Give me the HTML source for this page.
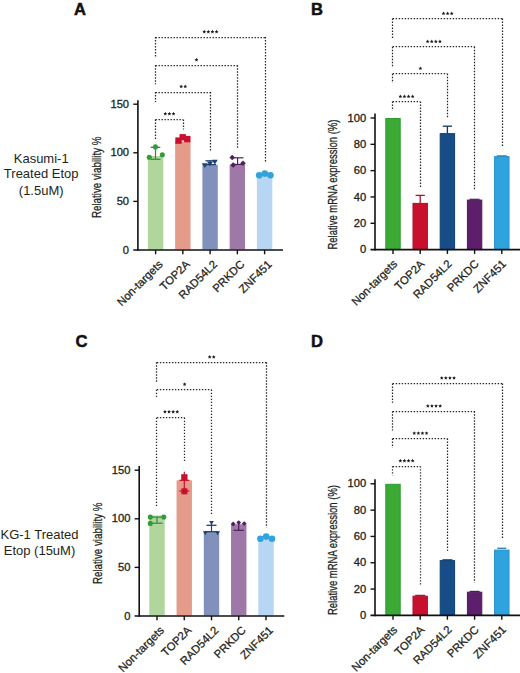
<!DOCTYPE html>
<html><head><meta charset="utf-8"><style>
html,body{margin:0;padding:0;background:#fff;}
svg{display:block;font-family:"Liberation Sans", sans-serif;}
text{stroke:#231f20;stroke-width:0.28px;}
text.s{stroke:none;}
text.b{stroke:#111;stroke-width:0.5px;}
</style></head><body>
<svg width="520" height="673" viewBox="0 0 520 673">
<rect width="520" height="673" fill="#fff"/>
<rect x="147.90" y="156.00" width="15.40" height="93.50" fill="#b0d69e" />
<rect x="175.15" y="141.50" width="15.40" height="108.00" fill="#e59b8a" />
<rect x="202.40" y="164.80" width="15.40" height="84.70" fill="#8191bb" />
<rect x="229.65" y="164.50" width="15.40" height="85.00" fill="#9e79a7" />
<rect x="256.90" y="176.00" width="15.40" height="73.50" fill="#b6d6f3" />
<line x1="137.90" y1="100.20" x2="137.90" y2="250.80" stroke="#111" stroke-width="1.6" />
<line x1="133.30" y1="250.00" x2="283.00" y2="250.00" stroke="#111" stroke-width="1.6" />
<text transform="translate(129.10,253.60) scale(1.12,1)" font-size="10" text-anchor="end" fill="#231f20">0</text>
<line x1="133.30" y1="201.40" x2="137.90" y2="201.40" stroke="#111" stroke-width="1.4" />
<text transform="translate(129.10,205.00) scale(1.12,1)" font-size="10" text-anchor="end" fill="#231f20">50</text>
<line x1="133.30" y1="152.80" x2="137.90" y2="152.80" stroke="#111" stroke-width="1.4" />
<text transform="translate(129.10,156.40) scale(1.12,1)" font-size="10" text-anchor="end" fill="#231f20">100</text>
<line x1="133.30" y1="104.20" x2="137.90" y2="104.20" stroke="#111" stroke-width="1.4" />
<text transform="translate(129.10,107.80) scale(1.12,1)" font-size="10" text-anchor="end" fill="#231f20">150</text>
<line x1="155.60" y1="250.00" x2="155.60" y2="254.30" stroke="#111" stroke-width="1.4" />
<line x1="182.85" y1="250.00" x2="182.85" y2="254.30" stroke="#111" stroke-width="1.4" />
<line x1="210.10" y1="250.00" x2="210.10" y2="254.30" stroke="#111" stroke-width="1.4" />
<line x1="237.35" y1="250.00" x2="237.35" y2="254.30" stroke="#111" stroke-width="1.4" />
<line x1="264.60" y1="250.00" x2="264.60" y2="254.30" stroke="#111" stroke-width="1.4" />
<text transform="translate(100.60,177.30) rotate(-90)" x="0" y="0" font-size="13.5" text-anchor="middle" fill="#231f20" textLength="81.5" lengthAdjust="spacingAndGlyphs">Relative viability %</text>
<text transform="translate(163.40,265.00) scale(1.0,1) rotate(-45)" font-size="11.3" text-anchor="end" fill="#231f20">Non-targets</text>
<text transform="translate(190.65,265.00) scale(1.0,1) rotate(-45)" font-size="11.3" text-anchor="end" fill="#231f20">TOP2A</text>
<text transform="translate(217.90,265.00) scale(1.0,1) rotate(-45)" font-size="11.3" text-anchor="end" fill="#231f20">RAD54L2</text>
<text transform="translate(245.15,265.00) scale(1.0,1) rotate(-45)" font-size="11.3" text-anchor="end" fill="#231f20">PRKDC</text>
<text transform="translate(272.40,265.00) scale(1.0,1) rotate(-45)" font-size="11.3" text-anchor="end" fill="#231f20">ZNF451</text>
<line x1="155.50" y1="37.50" x2="265.00" y2="37.50" stroke="#262626" stroke-width="1.25" stroke-dasharray="1.4 1.6"/>
<line x1="155.50" y1="37.00" x2="155.50" y2="56.50" stroke="#262626" stroke-width="1.25" stroke-dasharray="1.4 1.6"/>
<line x1="265.50" y1="37.00" x2="265.50" y2="162.80" stroke="#262626" stroke-width="1.25" stroke-dasharray="1.4 1.6"/>
<polygon points="204.25,29.80 204.81,31.03 206.15,31.18 205.15,32.09 205.43,33.42 204.25,32.75 203.07,33.42 203.35,32.09 202.35,31.18 203.69,31.03" fill="#1a1a1a"/>
<polygon points="208.35,29.80 208.91,31.03 210.25,31.18 209.25,32.09 209.53,33.42 208.35,32.75 207.17,33.42 207.45,32.09 206.45,31.18 207.79,31.03" fill="#1a1a1a"/>
<polygon points="212.45,29.80 213.01,31.03 214.35,31.18 213.35,32.09 213.63,33.42 212.45,32.75 211.27,33.42 211.55,32.09 210.55,31.18 211.89,31.03" fill="#1a1a1a"/>
<polygon points="216.55,29.80 217.11,31.03 218.45,31.18 217.45,32.09 217.73,33.42 216.55,32.75 215.37,33.42 215.65,32.09 214.65,31.18 215.99,31.03" fill="#1a1a1a"/>
<line x1="155.50" y1="65.50" x2="237.50" y2="65.50" stroke="#262626" stroke-width="1.25" stroke-dasharray="1.4 1.6"/>
<line x1="155.50" y1="65.30" x2="155.50" y2="84.20" stroke="#262626" stroke-width="1.25" stroke-dasharray="1.4 1.6"/>
<line x1="237.50" y1="65.30" x2="237.50" y2="149.00" stroke="#262626" stroke-width="1.25" stroke-dasharray="1.4 1.6"/>
<polygon points="196.50,57.80 197.06,59.03 198.40,59.18 197.40,60.09 197.68,61.42 196.50,60.75 195.32,61.42 195.60,60.09 194.60,59.18 195.94,59.03" fill="#1a1a1a"/>
<line x1="155.50" y1="92.50" x2="210.40" y2="92.50" stroke="#262626" stroke-width="1.25" stroke-dasharray="1.4 1.6"/>
<line x1="155.50" y1="92.00" x2="155.50" y2="102.00" stroke="#262626" stroke-width="1.25" stroke-dasharray="1.4 1.6"/>
<line x1="210.50" y1="92.00" x2="210.50" y2="152.00" stroke="#262626" stroke-width="1.25" stroke-dasharray="1.4 1.6"/>
<polygon points="181.15,84.50 181.71,85.73 183.05,85.88 182.05,86.79 182.33,88.12 181.15,87.45 179.97,88.12 180.25,86.79 179.25,85.88 180.59,85.73" fill="#1a1a1a"/>
<polygon points="185.25,84.50 185.81,85.73 187.15,85.88 186.15,86.79 186.43,88.12 185.25,87.45 184.07,88.12 184.35,86.79 183.35,85.88 184.69,85.73" fill="#1a1a1a"/>
<line x1="155.50" y1="119.50" x2="183.00" y2="119.50" stroke="#262626" stroke-width="1.25" stroke-dasharray="1.4 1.6"/>
<line x1="155.50" y1="119.60" x2="155.50" y2="140.60" stroke="#262626" stroke-width="1.25" stroke-dasharray="1.4 1.6"/>
<line x1="183.50" y1="119.60" x2="183.50" y2="129.60" stroke="#262626" stroke-width="1.25" stroke-dasharray="1.4 1.6"/>
<polygon points="165.30,111.80 165.86,113.03 167.20,113.18 166.20,114.09 166.48,115.42 165.30,114.75 164.12,115.42 164.40,114.09 163.40,113.18 164.74,113.03" fill="#1a1a1a"/>
<polygon points="169.40,111.80 169.96,113.03 171.30,113.18 170.30,114.09 170.58,115.42 169.40,114.75 168.22,115.42 168.50,114.09 167.50,113.18 168.84,113.03" fill="#1a1a1a"/>
<polygon points="173.50,111.80 174.06,113.03 175.40,113.18 174.40,114.09 174.68,115.42 173.50,114.75 172.32,115.42 172.60,114.09 171.60,113.18 172.94,113.03" fill="#1a1a1a"/>
<line x1="155.50" y1="147.30" x2="155.50" y2="159.30" stroke="#2e8b3a" stroke-width="1.2" />
<line x1="150.70" y1="147.30" x2="160.30" y2="147.30" stroke="#555" stroke-width="1.2" />
<line x1="151.00" y1="159.30" x2="160.50" y2="159.30" stroke="#2e8b3a" stroke-width="1.2" />
<circle cx="155.4" cy="146.9" r="2.55" fill="#2f9e38"/>
<circle cx="162.3" cy="154.7" r="2.55" fill="#2f9e38"/>
<circle cx="149.3" cy="157.3" r="2.55" fill="#2f9e38"/>
<rect x="175.30" y="137.40" width="6.40" height="6.40" fill="#c8102e" />
<rect x="179.50" y="134.10" width="6.40" height="6.40" fill="#c8102e" />
<rect x="184.10" y="135.90" width="6.40" height="6.40" fill="#c8102e" />
<line x1="210.30" y1="160.80" x2="210.30" y2="164.80" stroke="#1f3f78" stroke-width="1.2" />
<line x1="205.50" y1="160.80" x2="215.50" y2="160.80" stroke="#1f3f78" stroke-width="1.3" />
<line x1="204.50" y1="164.60" x2="216.00" y2="164.60" stroke="#1f3f78" stroke-width="1.2" />
<polygon points="201.80,163.20 207.80,163.20 204.80,168.00" fill="#1f3f78"/>
<polygon points="207.00,161.40 213.00,161.40 210.00,166.20" fill="#1f3f78"/>
<polygon points="211.80,159.70 217.80,159.70 214.80,164.50" fill="#1f3f78"/>
<line x1="237.60" y1="157.80" x2="237.60" y2="164.20" stroke="#4f1f5e" stroke-width="1.2" />
<line x1="233.00" y1="157.80" x2="243.50" y2="157.80" stroke="#4f1f5e" stroke-width="1.2" />
<line x1="232.00" y1="164.40" x2="244.00" y2="164.40" stroke="#4f1f5e" stroke-width="1.2" />
<polygon points="232.20,154.70 235.00,157.50 232.20,160.30 229.40,157.50" fill="#4f1f5e"/>
<polygon points="243.00,160.40 245.80,163.20 243.00,166.00 240.20,163.20" fill="#4f1f5e"/>
<polygon points="233.20,162.20 236.00,165.00 233.20,167.80 230.40,165.00" fill="#4f1f5e"/>
<circle cx="259.2" cy="175.3" r="3.3" fill="#2ea3dd"/>
<circle cx="264.8" cy="173.6" r="3.3" fill="#2ea3dd"/>
<circle cx="270.4" cy="175.3" r="3.3" fill="#2ea3dd"/>
<rect x="385.80" y="118.50" width="14.40" height="131.10" fill="#3aaa35" stroke="#2f9a2e" stroke-width="1"/>
<rect x="413.00" y="203.38" width="14.40" height="46.22" fill="#c8102e" stroke="#b00d28" stroke-width="1"/>
<rect x="440.20" y="133.63" width="14.40" height="115.97" fill="#164c88" stroke="#0f3f73" stroke-width="1"/>
<rect x="467.40" y="200.09" width="14.40" height="49.51" fill="#5d1f6b" stroke="#4e1a5c" stroke-width="1"/>
<rect x="494.60" y="156.66" width="14.40" height="92.94" fill="#2ea3dd" stroke="#2590c8" stroke-width="1"/>
<line x1="375.00" y1="113.50" x2="375.00" y2="250.40" stroke="#111" stroke-width="1.6" />
<line x1="370.50" y1="249.60" x2="520.50" y2="249.60" stroke="#111" stroke-width="1.6" />
<text transform="translate(366.30,253.20) scale(1.12,1)" font-size="10" text-anchor="end" fill="#231f20">0</text>
<line x1="370.50" y1="223.28" x2="375.00" y2="223.28" stroke="#111" stroke-width="1.4" />
<text transform="translate(366.30,226.88) scale(1.12,1)" font-size="10" text-anchor="end" fill="#231f20">20</text>
<line x1="370.50" y1="196.96" x2="375.00" y2="196.96" stroke="#111" stroke-width="1.4" />
<text transform="translate(366.30,200.56) scale(1.12,1)" font-size="10" text-anchor="end" fill="#231f20">40</text>
<line x1="370.50" y1="170.64" x2="375.00" y2="170.64" stroke="#111" stroke-width="1.4" />
<text transform="translate(366.30,174.24) scale(1.12,1)" font-size="10" text-anchor="end" fill="#231f20">60</text>
<line x1="370.50" y1="144.32" x2="375.00" y2="144.32" stroke="#111" stroke-width="1.4" />
<text transform="translate(366.30,147.92) scale(1.12,1)" font-size="10" text-anchor="end" fill="#231f20">80</text>
<line x1="370.50" y1="118.00" x2="375.00" y2="118.00" stroke="#111" stroke-width="1.4" />
<text transform="translate(366.30,121.60) scale(1.12,1)" font-size="10" text-anchor="end" fill="#231f20">100</text>
<line x1="393.00" y1="249.60" x2="393.00" y2="253.90" stroke="#111" stroke-width="1.4" />
<line x1="420.20" y1="249.60" x2="420.20" y2="253.90" stroke="#111" stroke-width="1.4" />
<line x1="447.40" y1="249.60" x2="447.40" y2="253.90" stroke="#111" stroke-width="1.4" />
<line x1="474.60" y1="249.60" x2="474.60" y2="253.90" stroke="#111" stroke-width="1.4" />
<line x1="501.80" y1="249.60" x2="501.80" y2="253.90" stroke="#111" stroke-width="1.4" />
<text transform="translate(337.00,184.50) rotate(-90)" x="0" y="0" font-size="13.5" text-anchor="middle" fill="#231f20" textLength="130.0" lengthAdjust="spacingAndGlyphs">Relative mRNA expression (%)</text>
<text transform="translate(398.00,264.60) scale(1.0,1) rotate(-45)" font-size="11.3" text-anchor="end" fill="#231f20">Non-targets</text>
<text transform="translate(425.20,264.60) scale(1.0,1) rotate(-45)" font-size="11.3" text-anchor="end" fill="#231f20">TOP2A</text>
<text transform="translate(452.40,264.60) scale(1.0,1) rotate(-45)" font-size="11.3" text-anchor="end" fill="#231f20">RAD54L2</text>
<text transform="translate(479.60,264.60) scale(1.0,1) rotate(-45)" font-size="11.3" text-anchor="end" fill="#231f20">PRKDC</text>
<text transform="translate(506.80,264.60) scale(1.0,1) rotate(-45)" font-size="11.3" text-anchor="end" fill="#231f20">ZNF451</text>
<line x1="420.20" y1="195.40" x2="420.20" y2="202.88" stroke="#a3142c" stroke-width="1.3" />
<line x1="415.60" y1="195.40" x2="424.80" y2="195.40" stroke="#a3142c" stroke-width="1.3" />
<line x1="447.40" y1="126.20" x2="447.40" y2="133.13" stroke="#0e3566" stroke-width="1.3" />
<line x1="442.80" y1="126.20" x2="452.00" y2="126.20" stroke="#0e3566" stroke-width="1.3" />
<line x1="469.60" y1="199.29" x2="479.60" y2="199.29" stroke="#4e1a5c" stroke-width="1.2" />
<line x1="496.80" y1="155.86" x2="506.80" y2="155.86" stroke="#1d7fb5" stroke-width="1.2" />
<line x1="392.70" y1="18.50" x2="502.30" y2="18.50" stroke="#262626" stroke-width="1.25" stroke-dasharray="1.4 1.6"/>
<line x1="392.50" y1="18.60" x2="392.50" y2="38.30" stroke="#262626" stroke-width="1.25" stroke-dasharray="1.4 1.6"/>
<line x1="502.50" y1="18.60" x2="502.50" y2="147.00" stroke="#262626" stroke-width="1.25" stroke-dasharray="1.4 1.6"/>
<polygon points="443.50,11.50 444.06,12.73 445.40,12.88 444.40,13.79 444.68,15.12 443.50,14.45 442.32,15.12 442.60,13.79 441.60,12.88 442.94,12.73" fill="#1a1a1a"/>
<polygon points="447.60,11.50 448.16,12.73 449.50,12.88 448.50,13.79 448.78,15.12 447.60,14.45 446.42,15.12 446.70,13.79 445.70,12.88 447.04,12.73" fill="#1a1a1a"/>
<polygon points="451.70,11.50 452.26,12.73 453.60,12.88 452.60,13.79 452.88,15.12 451.70,14.45 450.52,15.12 450.80,13.79 449.80,12.88 451.14,12.73" fill="#1a1a1a"/>
<line x1="392.70" y1="46.50" x2="474.60" y2="46.50" stroke="#262626" stroke-width="1.25" stroke-dasharray="1.4 1.6"/>
<line x1="392.50" y1="46.80" x2="392.50" y2="66.50" stroke="#262626" stroke-width="1.25" stroke-dasharray="1.4 1.6"/>
<line x1="474.50" y1="46.80" x2="474.50" y2="189.60" stroke="#262626" stroke-width="1.25" stroke-dasharray="1.4 1.6"/>
<polygon points="427.65,39.50 428.21,40.73 429.55,40.88 428.55,41.79 428.83,43.12 427.65,42.45 426.47,43.12 426.75,41.79 425.75,40.88 427.09,40.73" fill="#1a1a1a"/>
<polygon points="431.75,39.50 432.31,40.73 433.65,40.88 432.65,41.79 432.93,43.12 431.75,42.45 430.57,43.12 430.85,41.79 429.85,40.88 431.19,40.73" fill="#1a1a1a"/>
<polygon points="435.85,39.50 436.41,40.73 437.75,40.88 436.75,41.79 437.03,43.12 435.85,42.45 434.67,43.12 434.95,41.79 433.95,40.88 435.29,40.73" fill="#1a1a1a"/>
<polygon points="439.95,39.50 440.51,40.73 441.85,40.88 440.85,41.79 441.13,43.12 439.95,42.45 438.77,43.12 439.05,41.79 438.05,40.88 439.39,40.73" fill="#1a1a1a"/>
<line x1="392.70" y1="73.50" x2="447.30" y2="73.50" stroke="#262626" stroke-width="1.25" stroke-dasharray="1.4 1.6"/>
<line x1="392.50" y1="73.80" x2="392.50" y2="83.00" stroke="#262626" stroke-width="1.25" stroke-dasharray="1.4 1.6"/>
<line x1="447.50" y1="73.80" x2="447.50" y2="118.80" stroke="#262626" stroke-width="1.25" stroke-dasharray="1.4 1.6"/>
<polygon points="420.40,66.40 420.96,67.63 422.30,67.78 421.30,68.69 421.58,70.02 420.40,69.35 419.22,70.02 419.50,68.69 418.50,67.78 419.84,67.63" fill="#1a1a1a"/>
<line x1="392.70" y1="101.50" x2="420.00" y2="101.50" stroke="#262626" stroke-width="1.25" stroke-dasharray="1.4 1.6"/>
<line x1="392.50" y1="101.50" x2="392.50" y2="110.80" stroke="#262626" stroke-width="1.25" stroke-dasharray="1.4 1.6"/>
<line x1="420.50" y1="101.50" x2="420.50" y2="187.30" stroke="#262626" stroke-width="1.25" stroke-dasharray="1.4 1.6"/>
<polygon points="400.35,94.50 400.91,95.73 402.25,95.88 401.25,96.79 401.53,98.12 400.35,97.45 399.17,98.12 399.45,96.79 398.45,95.88 399.79,95.73" fill="#1a1a1a"/>
<polygon points="404.45,94.50 405.01,95.73 406.35,95.88 405.35,96.79 405.63,98.12 404.45,97.45 403.27,98.12 403.55,96.79 402.55,95.88 403.89,95.73" fill="#1a1a1a"/>
<polygon points="408.55,94.50 409.11,95.73 410.45,95.88 409.45,96.79 409.73,98.12 408.55,97.45 407.37,98.12 407.65,96.79 406.65,95.88 407.99,95.73" fill="#1a1a1a"/>
<polygon points="412.65,94.50 413.21,95.73 414.55,95.88 413.55,96.79 413.83,98.12 412.65,97.45 411.47,98.12 411.75,96.79 410.75,95.88 412.09,95.73" fill="#1a1a1a"/>
<text x="74.00" y="14.70" font-size="16.6" text-anchor="start" font-weight="bold" fill="#111"   class="b">A</text>
<text x="311.00" y="14.50" font-size="16.6" text-anchor="start" font-weight="bold" fill="#111"   class="b">B</text>
<text x="75.60" y="346.70" font-size="16.6" text-anchor="start" font-weight="bold" fill="#111"   class="b">C</text>
<text x="311.00" y="346.50" font-size="16.6" text-anchor="start" font-weight="bold" fill="#111"   class="b">D</text>
<text x="41.20" y="162.50" font-size="13" text-anchor="middle" font-weight="normal" fill="#231f20"  class="s">Kasumi-1</text>
<text x="41.20" y="178.40" font-size="13" text-anchor="middle" font-weight="normal" fill="#231f20"  class="s">Treated Etop</text>
<text x="41.20" y="194.60" font-size="13" text-anchor="middle" font-weight="normal" fill="#231f20"  class="s">(1.5uM)</text>
<text x="39.50" y="539.30" font-size="13" text-anchor="middle" font-weight="normal" fill="#231f20"  class="s">KG-1 Treated</text>
<text x="39.50" y="555.00" font-size="13" text-anchor="middle" font-weight="normal" fill="#231f20"  class="s">Etop (15uM)</text>
<rect x="149.30" y="515.50" width="15.40" height="100.00" fill="#b0d69e" />
<rect x="176.55" y="480.30" width="15.40" height="135.20" fill="#e59b8a" />
<rect x="203.80" y="532.00" width="15.40" height="83.50" fill="#8191bb" />
<rect x="231.05" y="524.20" width="15.40" height="91.30" fill="#9e79a7" />
<rect x="258.30" y="539.00" width="15.40" height="76.50" fill="#b6d6f3" />
<line x1="139.20" y1="466.00" x2="139.20" y2="616.80" stroke="#111" stroke-width="1.6" />
<line x1="134.60" y1="616.00" x2="284.30" y2="616.00" stroke="#111" stroke-width="1.6" />
<text transform="translate(130.40,619.60) scale(1.12,1)" font-size="10" text-anchor="end" fill="#231f20">0</text>
<line x1="134.60" y1="567.40" x2="139.20" y2="567.40" stroke="#111" stroke-width="1.4" />
<text transform="translate(130.40,571.00) scale(1.12,1)" font-size="10" text-anchor="end" fill="#231f20">50</text>
<line x1="134.60" y1="518.80" x2="139.20" y2="518.80" stroke="#111" stroke-width="1.4" />
<text transform="translate(130.40,522.40) scale(1.12,1)" font-size="10" text-anchor="end" fill="#231f20">100</text>
<line x1="134.60" y1="470.20" x2="139.20" y2="470.20" stroke="#111" stroke-width="1.4" />
<text transform="translate(130.40,473.80) scale(1.12,1)" font-size="10" text-anchor="end" fill="#231f20">150</text>
<line x1="157.00" y1="616.00" x2="157.00" y2="620.30" stroke="#111" stroke-width="1.4" />
<line x1="184.25" y1="616.00" x2="184.25" y2="620.30" stroke="#111" stroke-width="1.4" />
<line x1="211.50" y1="616.00" x2="211.50" y2="620.30" stroke="#111" stroke-width="1.4" />
<line x1="238.75" y1="616.00" x2="238.75" y2="620.30" stroke="#111" stroke-width="1.4" />
<line x1="266.00" y1="616.00" x2="266.00" y2="620.30" stroke="#111" stroke-width="1.4" />
<text transform="translate(101.90,543.30) rotate(-90)" x="0" y="0" font-size="13.5" text-anchor="middle" fill="#231f20" textLength="81.5" lengthAdjust="spacingAndGlyphs">Relative viability %</text>
<text transform="translate(164.80,631.00) scale(1.0,1) rotate(-45)" font-size="11.3" text-anchor="end" fill="#231f20">Non-targets</text>
<text transform="translate(192.05,631.00) scale(1.0,1) rotate(-45)" font-size="11.3" text-anchor="end" fill="#231f20">TOP2A</text>
<text transform="translate(219.30,631.00) scale(1.0,1) rotate(-45)" font-size="11.3" text-anchor="end" fill="#231f20">RAD54L2</text>
<text transform="translate(246.55,631.00) scale(1.0,1) rotate(-45)" font-size="11.3" text-anchor="end" fill="#231f20">PRKDC</text>
<text transform="translate(273.80,631.00) scale(1.0,1) rotate(-45)" font-size="11.3" text-anchor="end" fill="#231f20">ZNF451</text>
<line x1="156.90" y1="362.50" x2="266.50" y2="362.50" stroke="#262626" stroke-width="1.25" stroke-dasharray="1.4 1.6"/>
<line x1="156.50" y1="362.30" x2="156.50" y2="382.30" stroke="#262626" stroke-width="1.25" stroke-dasharray="1.4 1.6"/>
<line x1="266.50" y1="362.30" x2="266.50" y2="527.60" stroke="#262626" stroke-width="1.25" stroke-dasharray="1.4 1.6"/>
<polygon points="209.65,355.00 210.21,356.23 211.55,356.38 210.55,357.29 210.83,358.62 209.65,357.95 208.47,358.62 208.75,357.29 207.75,356.38 209.09,356.23" fill="#1a1a1a"/>
<polygon points="213.75,355.00 214.31,356.23 215.65,356.38 214.65,357.29 214.93,358.62 213.75,357.95 212.57,358.62 212.85,357.29 211.85,356.38 213.19,356.23" fill="#1a1a1a"/>
<line x1="156.90" y1="389.50" x2="211.50" y2="389.50" stroke="#262626" stroke-width="1.25" stroke-dasharray="1.4 1.6"/>
<line x1="156.50" y1="389.70" x2="156.50" y2="398.50" stroke="#262626" stroke-width="1.25" stroke-dasharray="1.4 1.6"/>
<line x1="211.50" y1="389.70" x2="211.50" y2="515.50" stroke="#262626" stroke-width="1.25" stroke-dasharray="1.4 1.6"/>
<polygon points="184.60,382.30 185.16,383.53 186.50,383.68 185.50,384.59 185.78,385.92 184.60,385.25 183.42,385.92 183.70,384.59 182.70,383.68 184.04,383.53" fill="#1a1a1a"/>
<line x1="156.90" y1="417.50" x2="184.60" y2="417.50" stroke="#262626" stroke-width="1.25" stroke-dasharray="1.4 1.6"/>
<line x1="156.50" y1="417.70" x2="156.50" y2="507.50" stroke="#262626" stroke-width="1.25" stroke-dasharray="1.4 1.6"/>
<line x1="184.50" y1="417.70" x2="184.50" y2="462.70" stroke="#262626" stroke-width="1.25" stroke-dasharray="1.4 1.6"/>
<polygon points="164.95,409.80 165.51,411.03 166.85,411.18 165.85,412.09 166.13,413.42 164.95,412.75 163.77,413.42 164.05,412.09 163.05,411.18 164.39,411.03" fill="#1a1a1a"/>
<polygon points="169.05,409.80 169.61,411.03 170.95,411.18 169.95,412.09 170.23,413.42 169.05,412.75 167.87,413.42 168.15,412.09 167.15,411.18 168.49,411.03" fill="#1a1a1a"/>
<polygon points="173.15,409.80 173.71,411.03 175.05,411.18 174.05,412.09 174.33,413.42 173.15,412.75 171.97,413.42 172.25,412.09 171.25,411.18 172.59,411.03" fill="#1a1a1a"/>
<polygon points="177.25,409.80 177.81,411.03 179.15,411.18 178.15,412.09 178.43,413.42 177.25,412.75 176.07,413.42 176.35,412.09 175.35,411.18 176.69,411.03" fill="#1a1a1a"/>
<line x1="157.00" y1="517.10" x2="157.00" y2="523.20" stroke="#2e8b3a" stroke-width="1.2" />
<line x1="150.30" y1="517.10" x2="163.80" y2="517.10" stroke="#2e8b3a" stroke-width="1.2" />
<line x1="151.50" y1="523.20" x2="162.50" y2="523.20" stroke="#2e8b3a" stroke-width="1.2" />
<circle cx="150.3" cy="517.1" r="2.55" fill="#2f9e38"/>
<circle cx="163.8" cy="517.1" r="2.55" fill="#2f9e38"/>
<circle cx="150.3" cy="523.4" r="2.55" fill="#2f9e38"/>
<line x1="184.30" y1="471.80" x2="184.30" y2="491.50" stroke="#c8102e" stroke-width="1.2" />
<line x1="179.30" y1="480.30" x2="189.40" y2="480.30" stroke="#c8102e" stroke-width="1.2" />
<line x1="179.30" y1="491.00" x2="189.40" y2="491.00" stroke="#c8102e" stroke-width="1.2" />
<rect x="181.20" y="474.20" width="6.30" height="6.30" fill="#c8102e" />
<rect x="181.40" y="488.30" width="6.00" height="6.00" fill="#c8102e" />
<line x1="211.50" y1="522.40" x2="211.50" y2="531.70" stroke="#1f3f78" stroke-width="1.2" />
<line x1="206.50" y1="525.30" x2="216.50" y2="525.30" stroke="#1f3f78" stroke-width="1.3" />
<line x1="205.00" y1="531.70" x2="218.00" y2="531.70" stroke="#1f3f78" stroke-width="1.3" />
<polygon points="209.10,520.92 213.90,520.92 211.50,524.76" fill="#1f3f78"/>
<polygon points="202.90,531.32 207.70,531.32 205.30,535.16" fill="#1f3f78"/>
<polygon points="215.20,531.32 220.00,531.32 217.60,535.16" fill="#1f3f78"/>
<line x1="238.70" y1="521.50" x2="238.70" y2="530.50" stroke="#4f1f5e" stroke-width="1.2" />
<line x1="233.50" y1="530.30" x2="244.00" y2="530.30" stroke="#4f1f5e" stroke-width="1.2" />
<polygon points="233.20,521.60 235.60,524.00 233.20,526.40 230.80,524.00" fill="#4f1f5e"/>
<polygon points="238.70,520.20 241.10,522.60 238.70,525.00 236.30,522.60" fill="#4f1f5e"/>
<polygon points="244.20,521.20 246.60,523.60 244.20,526.00 241.80,523.60" fill="#4f1f5e"/>
<circle cx="260.4" cy="538.8" r="3.3" fill="#2ea3dd"/>
<circle cx="266.2" cy="536.6" r="3.3" fill="#2ea3dd"/>
<circle cx="272.0" cy="538.8" r="3.3" fill="#2ea3dd"/>
<rect x="385.80" y="484.30" width="14.40" height="131.10" fill="#3aaa35" stroke="#2f9a2e" stroke-width="1"/>
<rect x="413.00" y="596.16" width="14.40" height="19.24" fill="#c8102e" stroke="#b00d28" stroke-width="1"/>
<rect x="440.20" y="560.63" width="14.40" height="54.77" fill="#164c88" stroke="#0f3f73" stroke-width="1"/>
<rect x="467.40" y="592.21" width="14.40" height="23.19" fill="#5d1f6b" stroke="#4e1a5c" stroke-width="1"/>
<rect x="494.60" y="550.10" width="14.40" height="65.30" fill="#2ea3dd" stroke="#2590c8" stroke-width="1"/>
<line x1="375.00" y1="479.20" x2="375.00" y2="616.20" stroke="#111" stroke-width="1.6" />
<line x1="370.50" y1="615.40" x2="520.50" y2="615.40" stroke="#111" stroke-width="1.6" />
<text transform="translate(366.30,619.00) scale(1.12,1)" font-size="10" text-anchor="end" fill="#231f20">0</text>
<line x1="370.50" y1="589.08" x2="375.00" y2="589.08" stroke="#111" stroke-width="1.4" />
<text transform="translate(366.30,592.68) scale(1.12,1)" font-size="10" text-anchor="end" fill="#231f20">20</text>
<line x1="370.50" y1="562.76" x2="375.00" y2="562.76" stroke="#111" stroke-width="1.4" />
<text transform="translate(366.30,566.36) scale(1.12,1)" font-size="10" text-anchor="end" fill="#231f20">40</text>
<line x1="370.50" y1="536.44" x2="375.00" y2="536.44" stroke="#111" stroke-width="1.4" />
<text transform="translate(366.30,540.04) scale(1.12,1)" font-size="10" text-anchor="end" fill="#231f20">60</text>
<line x1="370.50" y1="510.12" x2="375.00" y2="510.12" stroke="#111" stroke-width="1.4" />
<text transform="translate(366.30,513.72) scale(1.12,1)" font-size="10" text-anchor="end" fill="#231f20">80</text>
<line x1="370.50" y1="483.80" x2="375.00" y2="483.80" stroke="#111" stroke-width="1.4" />
<text transform="translate(366.30,487.40) scale(1.12,1)" font-size="10" text-anchor="end" fill="#231f20">100</text>
<line x1="393.00" y1="615.40" x2="393.00" y2="619.70" stroke="#111" stroke-width="1.4" />
<line x1="420.20" y1="615.40" x2="420.20" y2="619.70" stroke="#111" stroke-width="1.4" />
<line x1="447.40" y1="615.40" x2="447.40" y2="619.70" stroke="#111" stroke-width="1.4" />
<line x1="474.60" y1="615.40" x2="474.60" y2="619.70" stroke="#111" stroke-width="1.4" />
<line x1="501.80" y1="615.40" x2="501.80" y2="619.70" stroke="#111" stroke-width="1.4" />
<text transform="translate(337.00,550.00) rotate(-90)" x="0" y="0" font-size="13.5" text-anchor="middle" fill="#231f20" textLength="130.0" lengthAdjust="spacingAndGlyphs">Relative mRNA expression (%)</text>
<text transform="translate(398.00,630.40) scale(1.0,1) rotate(-45)" font-size="11.3" text-anchor="end" fill="#231f20">Non-targets</text>
<text transform="translate(425.20,630.40) scale(1.0,1) rotate(-45)" font-size="11.3" text-anchor="end" fill="#231f20">TOP2A</text>
<text transform="translate(452.40,630.40) scale(1.0,1) rotate(-45)" font-size="11.3" text-anchor="end" fill="#231f20">RAD54L2</text>
<text transform="translate(479.60,630.40) scale(1.0,1) rotate(-45)" font-size="11.3" text-anchor="end" fill="#231f20">PRKDC</text>
<text transform="translate(506.80,630.40) scale(1.0,1) rotate(-45)" font-size="11.3" text-anchor="end" fill="#231f20">ZNF451</text>
<line x1="497.30" y1="548.28" x2="506.30" y2="548.28" stroke="#1d7fb5" stroke-width="1.3" />
<line x1="415.20" y1="595.36" x2="425.20" y2="595.36" stroke="#a3142c" stroke-width="1.2" />
<line x1="442.40" y1="559.83" x2="452.40" y2="559.83" stroke="#0e3566" stroke-width="1.2" />
<line x1="469.60" y1="591.41" x2="479.60" y2="591.41" stroke="#4e1a5c" stroke-width="1.2" />
<line x1="392.70" y1="383.50" x2="502.30" y2="383.50" stroke="#262626" stroke-width="1.25" stroke-dasharray="1.4 1.6"/>
<line x1="392.50" y1="383.50" x2="392.50" y2="402.70" stroke="#262626" stroke-width="1.25" stroke-dasharray="1.4 1.6"/>
<line x1="502.50" y1="383.50" x2="502.50" y2="538.70" stroke="#262626" stroke-width="1.25" stroke-dasharray="1.4 1.6"/>
<polygon points="441.75,376.00 442.31,377.23 443.65,377.38 442.65,378.29 442.93,379.62 441.75,378.95 440.57,379.62 440.85,378.29 439.85,377.38 441.19,377.23" fill="#1a1a1a"/>
<polygon points="445.85,376.00 446.41,377.23 447.75,377.38 446.75,378.29 447.03,379.62 445.85,378.95 444.67,379.62 444.95,378.29 443.95,377.38 445.29,377.23" fill="#1a1a1a"/>
<polygon points="449.95,376.00 450.51,377.23 451.85,377.38 450.85,378.29 451.13,379.62 449.95,378.95 448.77,379.62 449.05,378.29 448.05,377.38 449.39,377.23" fill="#1a1a1a"/>
<polygon points="454.05,376.00 454.61,377.23 455.95,377.38 454.95,378.29 455.23,379.62 454.05,378.95 452.87,379.62 453.15,378.29 452.15,377.38 453.49,377.23" fill="#1a1a1a"/>
<line x1="392.70" y1="411.50" x2="474.60" y2="411.50" stroke="#262626" stroke-width="1.25" stroke-dasharray="1.4 1.6"/>
<line x1="392.50" y1="411.30" x2="392.50" y2="430.40" stroke="#262626" stroke-width="1.25" stroke-dasharray="1.4 1.6"/>
<line x1="474.50" y1="411.30" x2="474.50" y2="582.50" stroke="#262626" stroke-width="1.25" stroke-dasharray="1.4 1.6"/>
<polygon points="427.85,404.00 428.41,405.23 429.75,405.38 428.75,406.29 429.03,407.62 427.85,406.95 426.67,407.62 426.95,406.29 425.95,405.38 427.29,405.23" fill="#1a1a1a"/>
<polygon points="431.95,404.00 432.51,405.23 433.85,405.38 432.85,406.29 433.13,407.62 431.95,406.95 430.77,407.62 431.05,406.29 430.05,405.38 431.39,405.23" fill="#1a1a1a"/>
<polygon points="436.05,404.00 436.61,405.23 437.95,405.38 436.95,406.29 437.23,407.62 436.05,406.95 434.87,407.62 435.15,406.29 434.15,405.38 435.49,405.23" fill="#1a1a1a"/>
<polygon points="440.15,404.00 440.71,405.23 442.05,405.38 441.05,406.29 441.33,407.62 440.15,406.95 438.97,407.62 439.25,406.29 438.25,405.38 439.59,405.23" fill="#1a1a1a"/>
<line x1="392.70" y1="438.50" x2="447.30" y2="438.50" stroke="#262626" stroke-width="1.25" stroke-dasharray="1.4 1.6"/>
<line x1="392.50" y1="438.50" x2="392.50" y2="447.70" stroke="#262626" stroke-width="1.25" stroke-dasharray="1.4 1.6"/>
<line x1="447.50" y1="438.50" x2="447.50" y2="550.80" stroke="#262626" stroke-width="1.25" stroke-dasharray="1.4 1.6"/>
<polygon points="414.25,431.20 414.81,432.43 416.15,432.58 415.15,433.49 415.43,434.82 414.25,434.15 413.07,434.82 413.35,433.49 412.35,432.58 413.69,432.43" fill="#1a1a1a"/>
<polygon points="418.35,431.20 418.91,432.43 420.25,432.58 419.25,433.49 419.53,434.82 418.35,434.15 417.17,434.82 417.45,433.49 416.45,432.58 417.79,432.43" fill="#1a1a1a"/>
<polygon points="422.45,431.20 423.01,432.43 424.35,432.58 423.35,433.49 423.63,434.82 422.45,434.15 421.27,434.82 421.55,433.49 420.55,432.58 421.89,432.43" fill="#1a1a1a"/>
<polygon points="426.55,431.20 427.11,432.43 428.45,432.58 427.45,433.49 427.73,434.82 426.55,434.15 425.37,434.82 425.65,433.49 424.65,432.58 425.99,432.43" fill="#1a1a1a"/>
<line x1="392.70" y1="466.50" x2="420.00" y2="466.50" stroke="#262626" stroke-width="1.25" stroke-dasharray="1.4 1.6"/>
<line x1="392.50" y1="466.20" x2="392.50" y2="475.40" stroke="#262626" stroke-width="1.25" stroke-dasharray="1.4 1.6"/>
<line x1="420.50" y1="466.20" x2="420.50" y2="586.30" stroke="#262626" stroke-width="1.25" stroke-dasharray="1.4 1.6"/>
<polygon points="400.35,458.80 400.91,460.03 402.25,460.18 401.25,461.09 401.53,462.42 400.35,461.75 399.17,462.42 399.45,461.09 398.45,460.18 399.79,460.03" fill="#1a1a1a"/>
<polygon points="404.45,458.80 405.01,460.03 406.35,460.18 405.35,461.09 405.63,462.42 404.45,461.75 403.27,462.42 403.55,461.09 402.55,460.18 403.89,460.03" fill="#1a1a1a"/>
<polygon points="408.55,458.80 409.11,460.03 410.45,460.18 409.45,461.09 409.73,462.42 408.55,461.75 407.37,462.42 407.65,461.09 406.65,460.18 407.99,460.03" fill="#1a1a1a"/>
<polygon points="412.65,458.80 413.21,460.03 414.55,460.18 413.55,461.09 413.83,462.42 412.65,461.75 411.47,462.42 411.75,461.09 410.75,460.18 412.09,460.03" fill="#1a1a1a"/>
</svg></body></html>
